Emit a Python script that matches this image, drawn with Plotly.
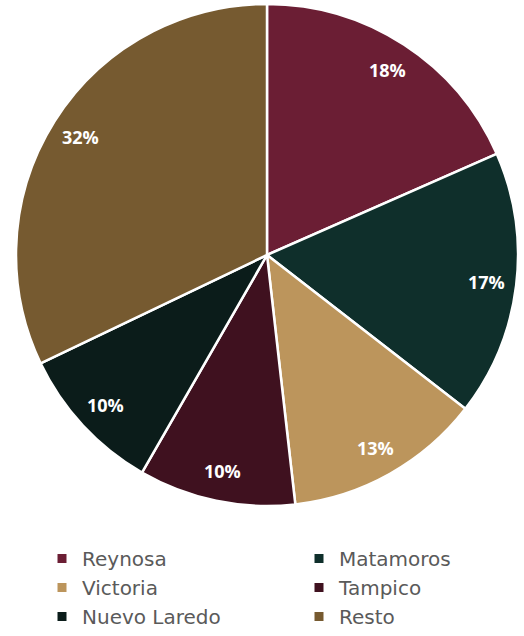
import math
import plotly.graph_objects as go

labels = ["Reynosa", "Matamoros", "Victoria", "Tampico", "Nuevo Laredo", "Resto"]
values = [18.4, 17.1, 12.7, 10.1, 9.6, 32.1]
colors = ["#6B1E34", "#0F2F2B", "#BC955C", "#3F111F", "#0B1C1A", "#765A30"]

W, H = 524, 636
cx, cy, R = 267, 255, 251

fig = go.Figure(go.Pie(
    labels=labels, values=values, sort=False, direction="clockwise", rotation=0,
    marker=dict(colors=colors, line=dict(color="white", width=2.5)),
    textinfo="none", hoverinfo="label+percent", showlegend=False,
    domain=dict(x=[(cx - R) / W, (cx + R) / W], y=[1 - (cy + R) / H, 1 - (cy - R) / H]),
))

# legend entries: two columns (left column = even indices, right = odd)
for i, (lab, col) in enumerate(zip(labels, colors)):
    fig.add_trace(go.Scatter(
        x=[None], y=[None], mode="markers", name=lab,
        marker=dict(symbol="square", size=9, color=col),
        legend="legend" if i % 2 == 0 else "legend2",
        hoverinfo="skip",
    ))

total = sum(values)
cum = 0.0
annotations = []
for v in values:
    mid = (cum + v / 2) / total * 2 * math.pi
    cum += v
    r = 0.88 * R
    annotations.append(dict(
        x=(cx + r * math.sin(mid)) / W, y=1 - (cy - r * math.cos(mid)) / H,
        xref="paper", yref="paper", showarrow=False,
        xanchor="center", yanchor="middle",
        text=f"<b>{round(v / total * 100)}%</b>",
        font=dict(color="white", size=18, family="Open Sans"),
    ))

legend_font = dict(family="DejaVu Sans", size=20, color="#5A5A5A")
fig.update_layout(
    width=W, height=H,
    margin=dict(l=0, r=0, t=0, b=0),
    paper_bgcolor="white", plot_bgcolor="white",
    xaxis=dict(visible=False), yaxis=dict(visible=False),
    annotations=annotations,
    showlegend=True,
    legend=dict(x=42 / W, y=0, xanchor="left", yanchor="bottom",
                font=legend_font, itemsizing="trace", tracegroupgap=0),
    legend2=dict(x=299 / W, y=0, xanchor="left", yanchor="bottom",
                 font=legend_font, itemsizing="trace", tracegroupgap=0),
    font=dict(family="Open Sans"),
)

fig.write_html("out.html", config={"displayModeBar": False},
               post_script="document.body.style.margin='0';")
